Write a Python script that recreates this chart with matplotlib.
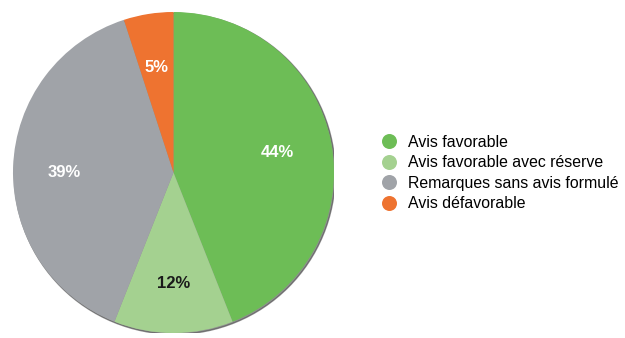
import matplotlib.pyplot as plt
from matplotlib.lines import Line2D
from matplotlib.patches import Circle
import numpy as np

labels = ["Avis favorable", "Avis favorable avec réserve",
          "Remarques sans avis formulé", "Avis défavorable"]
shares = [44, 12, 39, 5]
colors = ["#6dbd56", "#a4d190", "#a0a3a8", "#ee7330"]
pct_colors = ["white", "#1a1a1a", "white", "white"]

plt.rcParams["font.family"] = ["Liberation Sans", "DejaVu Sans"]

fig = plt.figure(figsize=(6.25, 3.38), dpi=100)
ax = fig.add_axes([13 / 625, 5 / 338, 321 / 625, 321 / 338])

# soft dark rim under the pie
ax.add_patch(Circle((0.008, -0.008), 1.0, color="#444444", alpha=0.6, zorder=0))

wedges, _ = ax.pie(shares, colors=colors, startangle=90, counterclock=False,
                   wedgeprops=dict(linewidth=0))
for w in wedges:
    w.set_zorder(1)

# percent labels, placed along each wedge's middle angle
dist = [0.66, 0.69, 0.68, 0.66]
start = 90.0
for i, s in enumerate(shares):
    mid = start - s * 3.6 / 2
    start -= s * 3.6
    ang = np.deg2rad(mid)
    x, y = dist[i] * np.cos(ang), dist[i] * np.sin(ang)
    if i == 2:
        y = 0.0
    ax.text(x, y, f"{s}%", ha="center", va="center", fontsize=12,
            fontweight="bold", color=pct_colors[i], zorder=3)

ax.set_xlim(-1, 1)
ax.set_ylim(-1, 1)
ax.set_aspect("equal")
ax.axis("off")

handles = [Line2D([], [], marker="o", linestyle="", markersize=10.8,
                  markerfacecolor=c, markeredgewidth=0) for c in colors]
fig.legend(handles, labels, loc="center left",
           bbox_to_anchor=(379.5 / 625, 1 - 173 / 338),
           frameon=False, fontsize=11.4, handletextpad=0.6, labelspacing=0.35,
           handlelength=1.2, borderpad=0, borderaxespad=0)

fig.savefig("out.png", dpi=100)
